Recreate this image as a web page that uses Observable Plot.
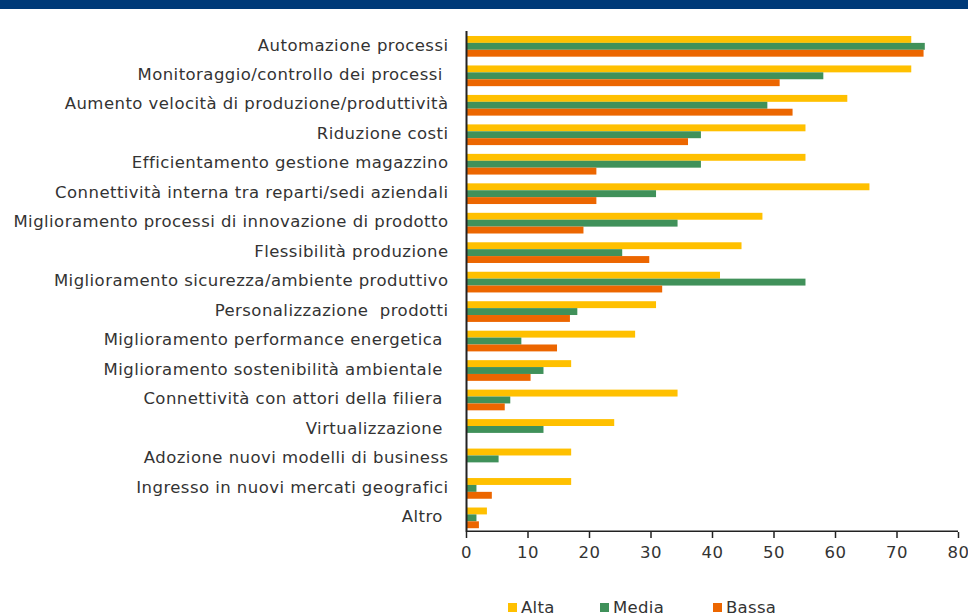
<!DOCTYPE html>
<html>
<head>
<meta charset="utf-8">
<script src="https://cdn.jsdelivr.net/npm/d3@7"></script>
<script src="https://cdn.jsdelivr.net/npm/@observablehq/plot@0.6"></script>
<style>
  html, body { margin: 0; padding: 0; background: #fff; }
  body { width: 968px; height: 616px; position: relative; overflow: hidden; font-family: "DejaVu Sans", sans-serif; }
  #band { position: absolute; left: 0; top: 0; width: 968px; height: 9px; background: #003A78; }
  #chart { position: absolute; left: 0; top: 9px; }
  #chart svg text { white-space: pre; }
  .leg { position: absolute; top: 598px; font-size: 16.5px; letter-spacing: 0.3px; color: #333; line-height: 20px; white-space: nowrap; }
  .leg span.sw { display: inline-block; width: 9px; height: 9px; margin-right: 4px; vertical-align: 1px; }
</style>
</head>
<body>
<div id="band"></div>
<div id="chart"></div>
<div id="legend"></div>
<script>
const categories = [
  "Automazione processi",
  "Monitoraggio/controllo dei processi ",
  "Aumento velocità di produzione/produttività",
  "Riduzione costi",
  "Efficientamento gestione magazzino",
  "Connettività interna tra reparti/sedi aziendali",
  "Miglioramento processi di innovazione di prodotto",
  "Flessibilità produzione",
  "Miglioramento sicurezza/ambiente produttivo",
  "Personalizzazione  prodotti",
  "Miglioramento performance energetica ",
  "Miglioramento sostenibilità ambientale ",
  "Connettività con attori della filiera ",
  "Virtualizzazione ",
  "Adozione nuovi modelli di business",
  "Ingresso in nuovi mercati geografici",
  "Altro "
];
const seriesNames = ["Alta", "Media", "Bassa"];
const alta  = [72.4, 72.4, 62.0, 55.2, 55.2, 65.6, 48.2, 44.8, 41.3, 30.9, 27.5, 17.1, 34.4, 24.1, 17.1, 17.1, 3.4];
const media = [74.6, 58.1, 49.0, 38.2, 38.2, 30.9, 34.4, 25.4, 55.2, 18.1, 9.0, 12.6, 7.2, 12.6, 5.3, 1.7, 1.7];
const bassa = [74.4, 51.0, 53.1, 36.1, 21.2, 21.2, 19.1, 29.8, 31.9, 16.9, 14.8, 10.5, 6.3, 0, 0, 4.2, 2.1];
const xTicks = [0, 10, 20, 30, 40, 50, 60, 70, 80];
const colors = ["#FFC000", "#40915A", "#EC6600"];

const rows = (vals) => categories.map((c, i) => ({category: c, value: vals[i]}));
const step = 501 / categories.length;
const barH = 6.9;
const inset = (step - barH) / 2;
const offsets = [-6.3, 0.6, 7.5];

const chart = Plot.plot({
  width: 968,
  height: 570,
  marginTop: 22,
  marginLeft: 466,
  marginRight: 10,
  marginBottom: 47,
  style: {fontFamily: "DejaVu Sans, sans-serif", fontSize: "16.5px", color: "#333", background: "transparent", letterSpacing: "0.45px"},
  x: {domain: [0, 80]},
  y: {domain: categories, padding: 0, round: false},
  marks: [
    ...[alta, media, bassa].map((vals, k) =>
      Plot.barX(rows(vals), {
        y: "category", x: "value", fill: colors[k],
        insetTop: inset, insetBottom: inset, dy: offsets[k]
      })
    ),
    Plot.axisY({tickSize: 0, tickPadding: 18, label: null, fill: "#333", dy: -1}),
    Plot.axisX({ticks: xTicks, tickSize: 6, tickPadding: 8, label: null, stroke: "#222", strokeWidth: 1.5, fill: "#333"}),
    // x-axis baseline along the bottom edge of the last band
    Plot.barX([{category: categories[categories.length - 1]}], {
      y: "category", x1: 0, x2: 80, fill: "#222", insetTop: step - 1.5
    }),
    Plot.ruleX([0], {stroke: "#222", strokeWidth: 2})
  ]
});
document.getElementById("chart").appendChild(chart);

const legendLefts = [508, 600, 713];
const legend = document.getElementById("legend");
seriesNames.forEach((name, k) => {
  const d = document.createElement("div");
  d.className = "leg";
  d.style.left = legendLefts[k] + "px";
  d.innerHTML = `<span class="sw" style="background:${colors[k]}"></span>${name}`;
  legend.appendChild(d);
});
</script>
</body>
</html>
